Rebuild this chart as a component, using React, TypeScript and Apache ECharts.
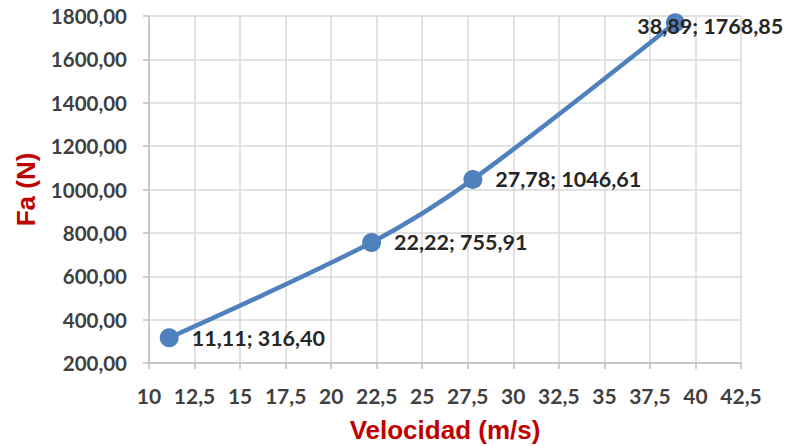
import React, { useEffect, useRef } from "react";
import * as echarts from "echarts";

const velocidad = [11.11, 22.22, 27.78, 38.89];
const fuerza = [316.4, 755.91, 1046.61, 1768.85];
const xTitle = "Velocidad (m/s)";
const yTitle = "Fa (N)";

const fmtComma = (v: number, d: number) => v.toFixed(d).replace(".", ",");

export default function App() {
  const ref = useRef<HTMLDivElement>(null);
  useEffect(() => {
    if (!ref.current) return;
    const chart = echarts.init(ref.current, null, { renderer: "svg" });
    const labelColor = "#404040";
    const font = "Lato, 'Open Sans', sans-serif";
    const titleFont = "'Liberation Sans', Arial, sans-serif";
    const data = velocidad.map((x, i) => {
      const item: any = { value: [x, fuerza[i]] };
      if (i === velocidad.length - 1) {
        item.label = { position: "inside", offset: [35, 3] };
      }
      return item;
    });
    chart.setOption({
      animation: false,
      backgroundColor: "#ffffff",
      grid: { left: 149, right: 47, top: 16, bottom: 83, outerBoundsMode: "none", containLabel: false },
      xAxis: {
        type: "value",
        min: 10,
        max: 42.5,
        interval: 2.5,
        name: xTitle,
        nameLocation: "middle",
        nameGap: 54,
        nameTextStyle: { color: "#C00000", fontSize: 26, fontWeight: "bold", fontFamily: titleFont },
        axisLine: { show: true, lineStyle: { color: "#BFBFBF", width: 1.5 } },
        axisTick: { show: true, length: 6, lineStyle: { color: "#BFBFBF", width: 1.5 } },
        splitLine: { show: true, lineStyle: { color: "#D9D9D9", width: 1.5 } },
        axisLabel: {
          color: labelColor,
          fontSize: 21,
          fontWeight: "bold",
          fontFamily: font,
          margin: 22,
          formatter: (v: number) => String(v).replace(".", ","),
        },
      },
      yAxis: {
        type: "value",
        min: 200,
        max: 1800,
        interval: 200,
        name: yTitle,
        nameLocation: "middle",
        nameGap: 110,
        nameRotate: 90,
        nameTextStyle: { color: "#C00000", fontSize: 26, fontWeight: "bold", fontFamily: titleFont },
        axisLine: { show: true, lineStyle: { color: "#BFBFBF", width: 1.5 } },
        axisTick: { show: true, length: 6, lineStyle: { color: "#BFBFBF", width: 1.5 } },
        splitLine: { show: true, lineStyle: { color: "#D9D9D9", width: 1.5 } },
        axisLabel: {
          color: labelColor,
          fontSize: 20.5,
          fontWeight: "bold",
          fontFamily: font,
          margin: 22,
          formatter: (v: number) => fmtComma(v, 2),
        },
      },
      series: [
        {
          type: "line",
          data,
          smooth: 0.3,
          symbol: "circle",
          symbolSize: 19,
          lineStyle: { color: "#4F81BD", width: 4.5 },
          itemStyle: { color: "#4F81BD" },
          label: {
            show: true,
            position: "right",
            distance: 13,
            color: "#262626",
            fontSize: 21.5,
            fontWeight: "bold",
            fontFamily: font,
            formatter: (p: any) => `${fmtComma(p.value[0], 2)}; ${fmtComma(p.value[1], 2)}`,
          },
        },
      ],
    });
    return () => chart.dispose();
  }, []);
  return <div ref={ref} style={{ width: 788, height: 446, position: "absolute", left: 0, top: 0 }} />;
}
